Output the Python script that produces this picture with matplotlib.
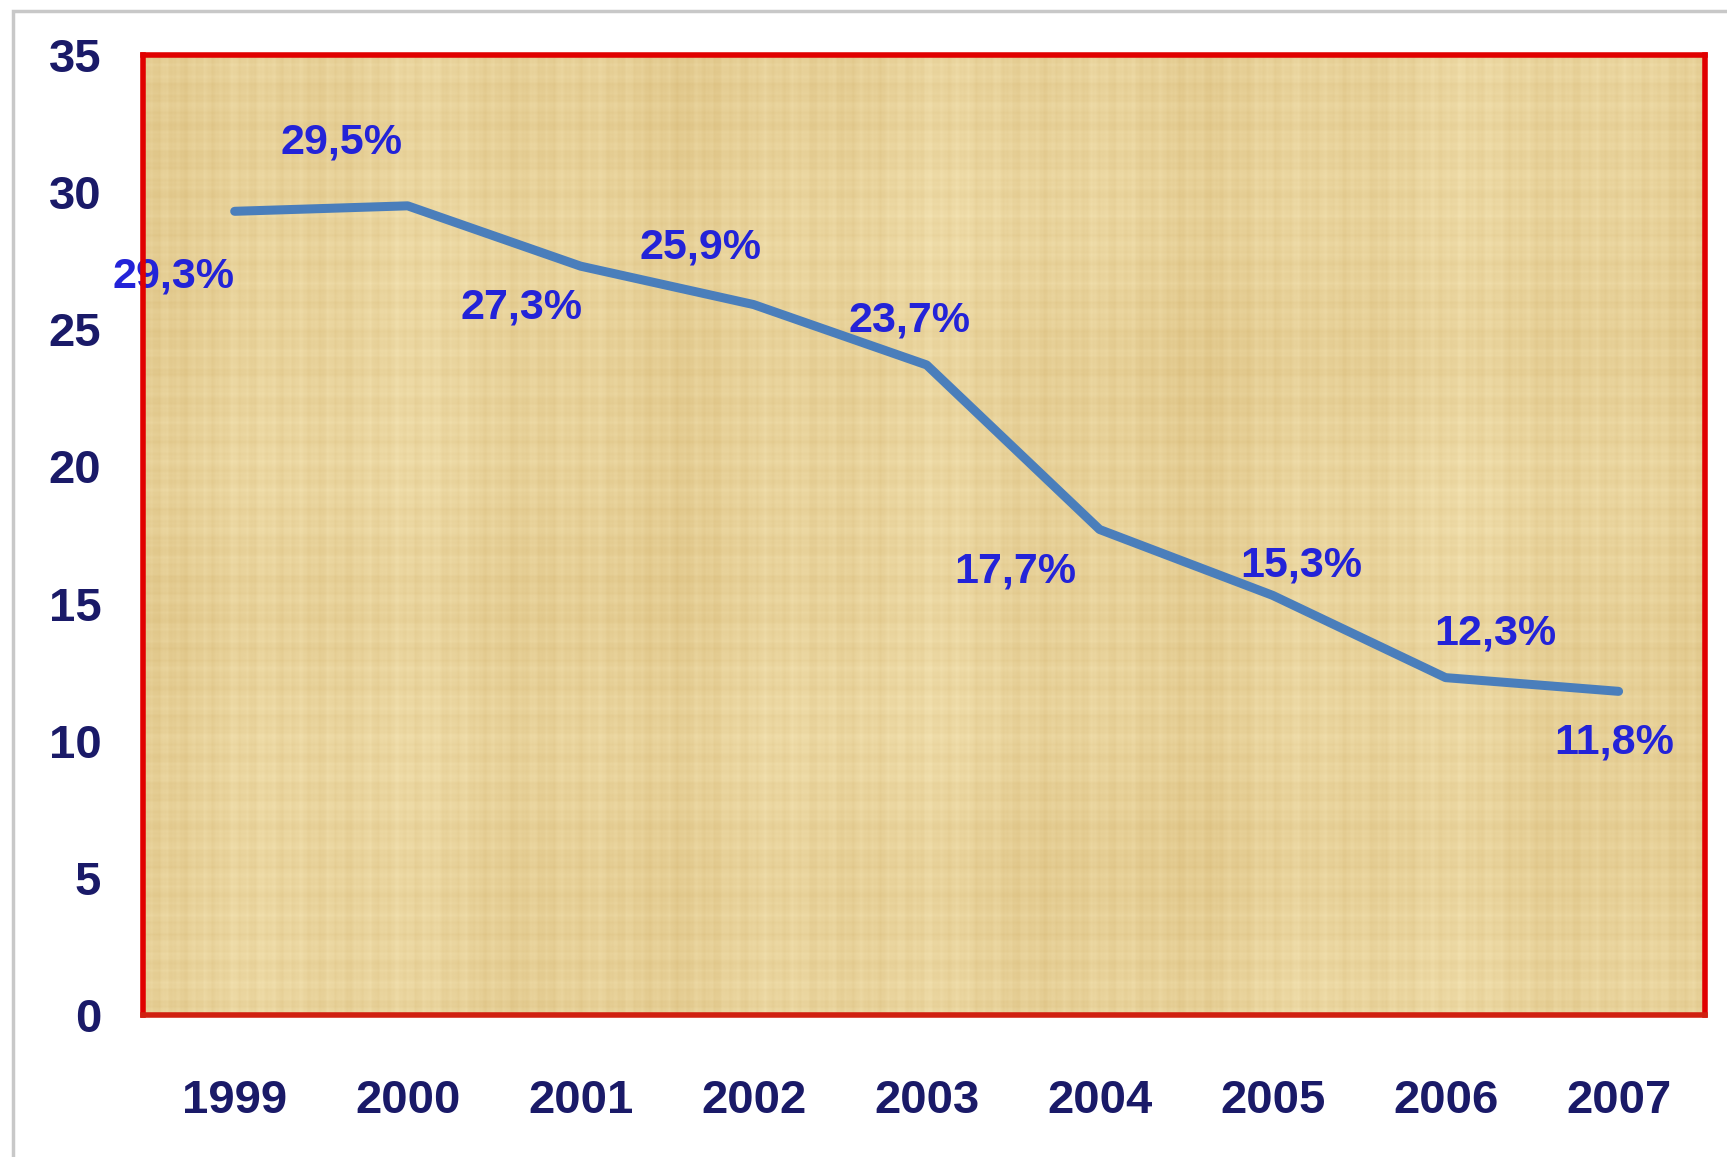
import numpy as np
import matplotlib
matplotlib.use('Agg')
import matplotlib.pyplot as plt
from matplotlib.patches import Rectangle

# data
years = ['1999', '2000', '2001', '2002', '2003', '2004', '2005', '2006', '2007']
values = [29.3, 29.5, 27.3, 25.9, 23.7, 17.7, 15.3, 12.3, 11.8]
labels = ['29,3%', '29,5%', '27,3%', '25,9%', '23,7%', '17,7%', '15,3%', '12,3%', '11,8%']
# label offsets in pixels (dx, dy)
offsets = [(-61, -65), (-66, 63), (-59, -41), (-53, 57), (-17, 44),
           (-84, -42), (29, 30), (50, 44), (-4, -51)]

fig = plt.figure(figsize=(17.27, 11.57), dpi=100)
fig.patch.set_facecolor('white')

# light gray outer frame
fig.patches.append(Rectangle((13 / 1727, -0.05), 1.2, 1 - 11 / 1157 + 0.05,
                             transform=fig.transFigure, fill=False,
                             edgecolor='#c8c8c8', linewidth=2.5))

ax = fig.add_axes([0.0828, 0.1227, 0.9045, 0.8298])
x = np.arange(len(years))

# papyrus-like texture, built from sines (no randomness)
H, W = 400, 800
yy, xx = np.mgrid[0:H, 0:W].astype(float)
vert = (0.3 * np.sin(xx * 0.9 + 1.3) + 0.2 * np.sin(xx * 0.37 + 0.4)
        + 0.2 * np.sin(xx * 2.3 + 2.1) + 0.25 * np.sin(xx * 0.071 + 0.8)
        + 0.2 * np.sin(xx * 0.023 + 2.0))
horiz = (0.25 * np.sin(yy * 1.1 + 0.5) + 0.2 * np.sin(yy * 0.43 + 1.7)
         + 0.2 * np.sin(yy * 2.7) + 0.15 * np.sin(yy * 0.06 + 0.3))
patch = 0.35 * np.sin(xx * 0.015 + yy * 0.02) * np.sin(yy * 0.013 - xx * 0.008 + 1.0)
t = vert + horiz + patch
t = (t - t.min()) / (t.max() - t.min())
light = np.array([244, 228, 180]) / 255
dark = np.array([220, 192, 128]) / 255
img = light * (1 - t[..., None]) + dark * t[..., None]
ax.imshow(img, extent=(-0.53, 8.5, 0, 35), aspect='auto', zorder=0,
          interpolation='bilinear')

ax.plot(x, values, color='#4a7ebb', linewidth=6.5, solid_capstyle='round', zorder=3)

for xi, v, lab, (dx, dy) in zip(x, values, labels, offsets):
    ax.annotate(lab, (xi, v), xytext=(dx, dy), textcoords='offset pixels',
                ha='center', va='center', fontsize=31, fontweight='bold',
                color='#2323d8', family=['Liberation Sans', 'DejaVu Sans'], zorder=4)

ax.set_xlim(-0.53, 8.5)
ax.set_ylim(0, 35)
ax.set_xticks(x)
ax.set_xticklabels(years)
ax.set_yticks(range(0, 36, 5))
ax.tick_params(length=0)
ax.tick_params(axis='y', pad=30)
ax.tick_params(axis='x', pad=46)
for lab in ax.get_xticklabels() + ax.get_yticklabels():
    lab.set_fontsize(34)
    lab.set_fontweight('bold')
    lab.set_color('#1a1a68')
    lab.set_family(['Liberation Sans Narrow', 'Liberation Sans'])

for sp in ax.spines.values():
    sp.set_color('#e00000')
    sp.set_linewidth(4)
    sp.set_zorder(5)
ax.spines['bottom'].set_color('#d02010')

fig.savefig('out.png', dpi=100, facecolor='white')
